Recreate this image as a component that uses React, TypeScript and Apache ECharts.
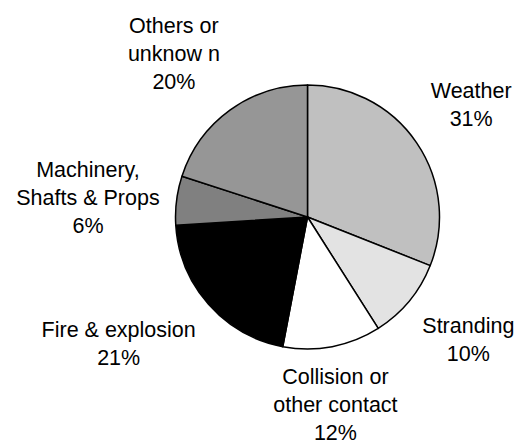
import React, { useEffect, useRef } from "react";
import * as echarts from "echarts";

const categories = [
  "Weather",
  "Stranding",
  "Collision or\nother contact",
  "Fire & explosion",
  "Machinery,\nShafts & Props",
  "Others or\nunknow n",
];
const values = [31, 10, 12, 21, 6, 20];
const colors = ["#c0c0c0", "#e3e3e3", "#ffffff", "#000000", "#808080", "#969696"];

const CX = 307.5;
const CY = 217;
const R = 132;
const GAP = 17;

export default function App() {
  const ref = useRef<HTMLDivElement>(null);
  useEffect(() => {
    if (!ref.current) return;
    const chart = echarts.init(ref.current, null, { renderer: "svg" });
    const total = values.reduce((a, b) => a + b, 0);
    const sgn = (v: number) => (Math.abs(v) < 0.3 ? 0 : Math.sign(v));
    chart.setOption({
      animation: false,
      backgroundColor: "#ffffff",
      series: [
        {
          type: "pie",
          center: [CX, CY],
          radius: R,
          startAngle: 90,
          clockwise: true,
          silent: true,
          avoidLabelOverlap: false,
          itemStyle: { borderColor: "#000000", borderWidth: 1.5 },
          label: {
            show: true,
            position: "outside",
            formatter: (p: any) => `${p.name}\n${p.value}%`,
            fontFamily: "Liberation Sans, Arial, sans-serif",
            fontSize: 21.5,
            lineHeight: 28,
            color: "#000000",
            align: "center",
          },
          labelLine: { show: false },
          emphasis: { disabled: true },
          labelLayout: (params: any) => {
            const i = params.dataIndex;
            const before = values.slice(0, i).reduce((a, b) => a + b, 0);
            const mid = ((before + values[i] / 2) / total) * Math.PI * 2;
            const dx = Math.sin(mid);
            const dy = -Math.cos(mid);
            const px = CX + (R + GAP) * dx;
            const py = CY + (R + GAP) * dy;
            const w = params.labelRect.width;
            const h = params.labelRect.height;
            return {
              x: px + (sgn(dx) * w) / 2,
              y: py + (sgn(dy) * h) / 2,
              align: "center",
              verticalAlign: "middle",
            };
          },
          data: categories.map((name, i) => ({
            name,
            value: values[i],
            itemStyle: { color: colors[i] },
          })),
        },
      ],
    });
    return () => chart.dispose();
  }, []);
  return (
    <div
      ref={ref}
      style={{ position: "fixed", left: 0, top: 0, width: 517, height: 441 }}
    />
  );
}
